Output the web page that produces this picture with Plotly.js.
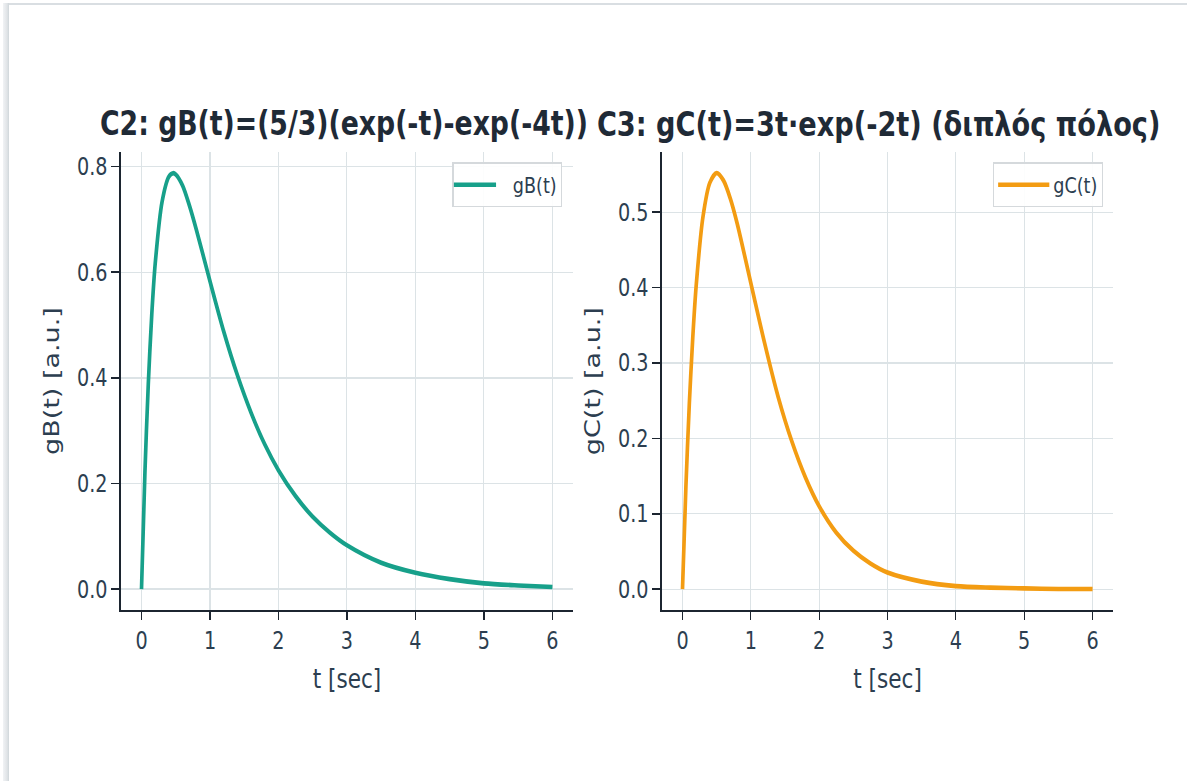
<!DOCTYPE html>
<html>
<head>
<meta charset="utf-8">
<script src="https://cdn.plot.ly/plotly-3.0.1.min.js"></script>
<style>
  html, body { margin: 0; padding: 0; background: #ffffff; overflow: hidden; }
  #wrap { position: absolute; left: 0; top: 0; width: 1187px; height: 781px; overflow: hidden; }
  #plot { position: absolute; left: 0; top: 0; transform-origin: 0 0; }
  #frameTop { position: absolute; left: 8px; top: 3px; width: 1179px; height: 2px; background: #d9dee2; }
  #frameLeft { position: absolute; left: 3px; top: 3px; width: 6px; height: 778px;
    background: linear-gradient(to right, #f1f3f5, #dfe3e6 70%, #cfd6da); }
</style>
</head>
<body>
<div id="wrap">
  <div id="plot"></div>
  <div id="frameTop"></div>
  <div id="frameLeft"></div>
</div>
<script>
// ---- data ----
const tB = [0, 0.05, 0.1, 0.15, 0.2, 0.3, 0.4, 0.46, 0.5, 0.6, 0.7, 0.8, 1.0, 1.2, 1.4, 1.6, 1.8, 2.0, 2.25, 2.5, 2.75, 3.0, 3.5, 4.0, 4.5, 5.0, 5.5, 6.0];
const gB = [0, 0.221, 0.391, 0.520, 0.616, 0.733, 0.781, 0.7875, 0.785, 0.764, 0.726, 0.681, 0.583, 0.488, 0.405, 0.334, 0.274, 0.225, 0.176, 0.137, 0.107, 0.083, 0.050, 0.031, 0.019, 0.011, 0.007, 0.004];
const tC = [0, 0.05, 0.1, 0.15, 0.2, 0.3, 0.4, 0.5, 0.6, 0.7, 0.8, 1.0, 1.2, 1.4, 1.6, 1.8, 2.0, 2.25, 2.5, 2.75, 3.0, 3.5, 4.0, 4.5, 5.0, 5.5, 6.0];
const gC = [0, 0.136, 0.246, 0.333, 0.402, 0.494, 0.539, 0.552, 0.542, 0.518, 0.485, 0.406, 0.327, 0.255, 0.196, 0.148, 0.110, 0.075, 0.051, 0.034, 0.022, 0.010, 0.004, 0.002, 0.001, 0.0003, 0.0001];
const xTicks = [0, 1, 2, 3, 4, 5, 6];
const yTicksB = [0.0, 0.2, 0.4, 0.6, 0.8];
const yTicksC = [0.0, 0.1, 0.2, 0.3, 0.4, 0.5];
const titleB = "C2: gB(t)=(5/3)(exp(-t)-exp(-4t))";
const titleC = "C3: gC(t)=3t·exp(-2t) (διπλός πόλος)";

// ---- layout (drawn wide, then squeezed horizontally like the reference) ----
const S = 0.8;
const W = Math.round(1187 / S), H = 781;
const el = document.getElementById('plot');
el.style.width = W + 'px';
el.style.height = H + 'px';
el.style.transform = 'scaleX(' + (1187 / W) + ')';

const FONT = 'DejaVu Sans, Verdana, sans-serif';
const TXT = '#2c3e50';
const AX = '#1c2530';
const GRID = '#dce3e6';

function xa(domain) {
  return {
    domain: domain, range: [-0.3, 6.3], tickvals: xTicks, ticktext: xTicks.map(String),
    showline: true, linecolor: AX, linewidth: 2, mirror: false,
    ticks: 'outside', ticklen: 8, tickwidth: 1.5, tickcolor: AX,
    showgrid: true, gridcolor: GRID, gridwidth: 1.3, zeroline: false,
    tickfont: {family: FONT, size: 24, color: TXT},
    title: {text: 't [sec]', font: {family: FONT, size: 27, color: TXT}, standoff: 15},
    automargin: false, fixedrange: true
  };
}
function ya(domain, range, ticks, label, anchor) {
  return {
    domain: domain, range: range, tickvals: ticks, ticktext: ticks.map(v => v.toFixed(1)),
    anchor: anchor,
    showline: true, linecolor: AX, linewidth: 2,
    ticks: 'outside', ticklen: 10, tickwidth: 1.5, tickcolor: AX,
    showgrid: true, gridcolor: GRID, gridwidth: 1.3, zeroline: false,
    tickfont: {family: FONT, size: 24, color: TXT},
    title: {text: label, font: {family: FONT, size: 27, color: TXT}, standoff: 14},
    automargin: false, fixedrange: true
  };
}

const data = [
  {x: tB, y: gB, type: 'scatter', mode: 'lines', name: 'gB(t)', xaxis: 'x', yaxis: 'y',
   line: {color: '#17a08a', width: 4.6, shape: 'spline', smoothing: 0.8}, legend: 'legend'},
  {x: tC, y: gC, type: 'scatter', mode: 'lines', name: 'gC(t)', xaxis: 'x2', yaxis: 'y2',
   line: {color: '#f39c12', width: 4.6, shape: 'spline', smoothing: 0.8}, legend: 'legend2'}
];

const legendStyle = (x) => ({
  x: x, y: 0.792, xanchor: 'right', yanchor: 'top',
  bgcolor: 'rgba(255,255,255,0.9)', bordercolor: '#d5d9dc', borderwidth: 1.5,
  font: {family: FONT, size: 22, color: TXT}, itemwidth: 64
});

const layout = {
  width: W, height: H,
  margin: {l: 0, r: 0, t: 0, b: 0},
  paper_bgcolor: '#ffffff', plot_bgcolor: '#ffffff',
  showlegend: true,
  xaxis: xa([0.1019, 0.4827]),
  yaxis: ya([0.219, 0.805], [-0.0394, 0.827], yTicksB, 'gB(t) [a.u.]', 'x'),
  xaxis2: Object.assign(xa([0.5577, 0.9377]), {anchor: 'y2'}),
  yaxis2: ya([0.219, 0.805], [-0.0276, 0.5794], yTicksC, 'gC(t) [a.u.]', 'x2'),
  legend: legendStyle(0.4735),
  legend2: legendStyle(0.9295),
  annotations: [
    {text: '<b>' + titleB + '</b>', xref: 'paper', yref: 'paper', x: 0.2898, y: 1 - 124 / 781,
     xanchor: 'center', yanchor: 'middle', showarrow: false,
     font: {family: FONT, size: 33.4, color: '#1f2a36'}},
    {text: '<b>' + titleC + '</b>', xref: 'paper', yref: 'paper', x: 0.7405, y: 1 - 124 / 781,
     xanchor: 'center', yanchor: 'middle', showarrow: false,
     font: {family: FONT, size: 34, color: '#1f2a36'}}
  ]
};
layout.xaxis.anchor = 'y';

Plotly.newPlot(el, data, layout, {displayModeBar: false, staticPlot: true}).then(() => {
  // lengthen the legend line samples, like the reference's legend handles
  el.querySelectorAll('.legend .legendlines path').forEach(p => p.setAttribute('d', 'M0,0h53'));
});
</script>
</body>
</html>
